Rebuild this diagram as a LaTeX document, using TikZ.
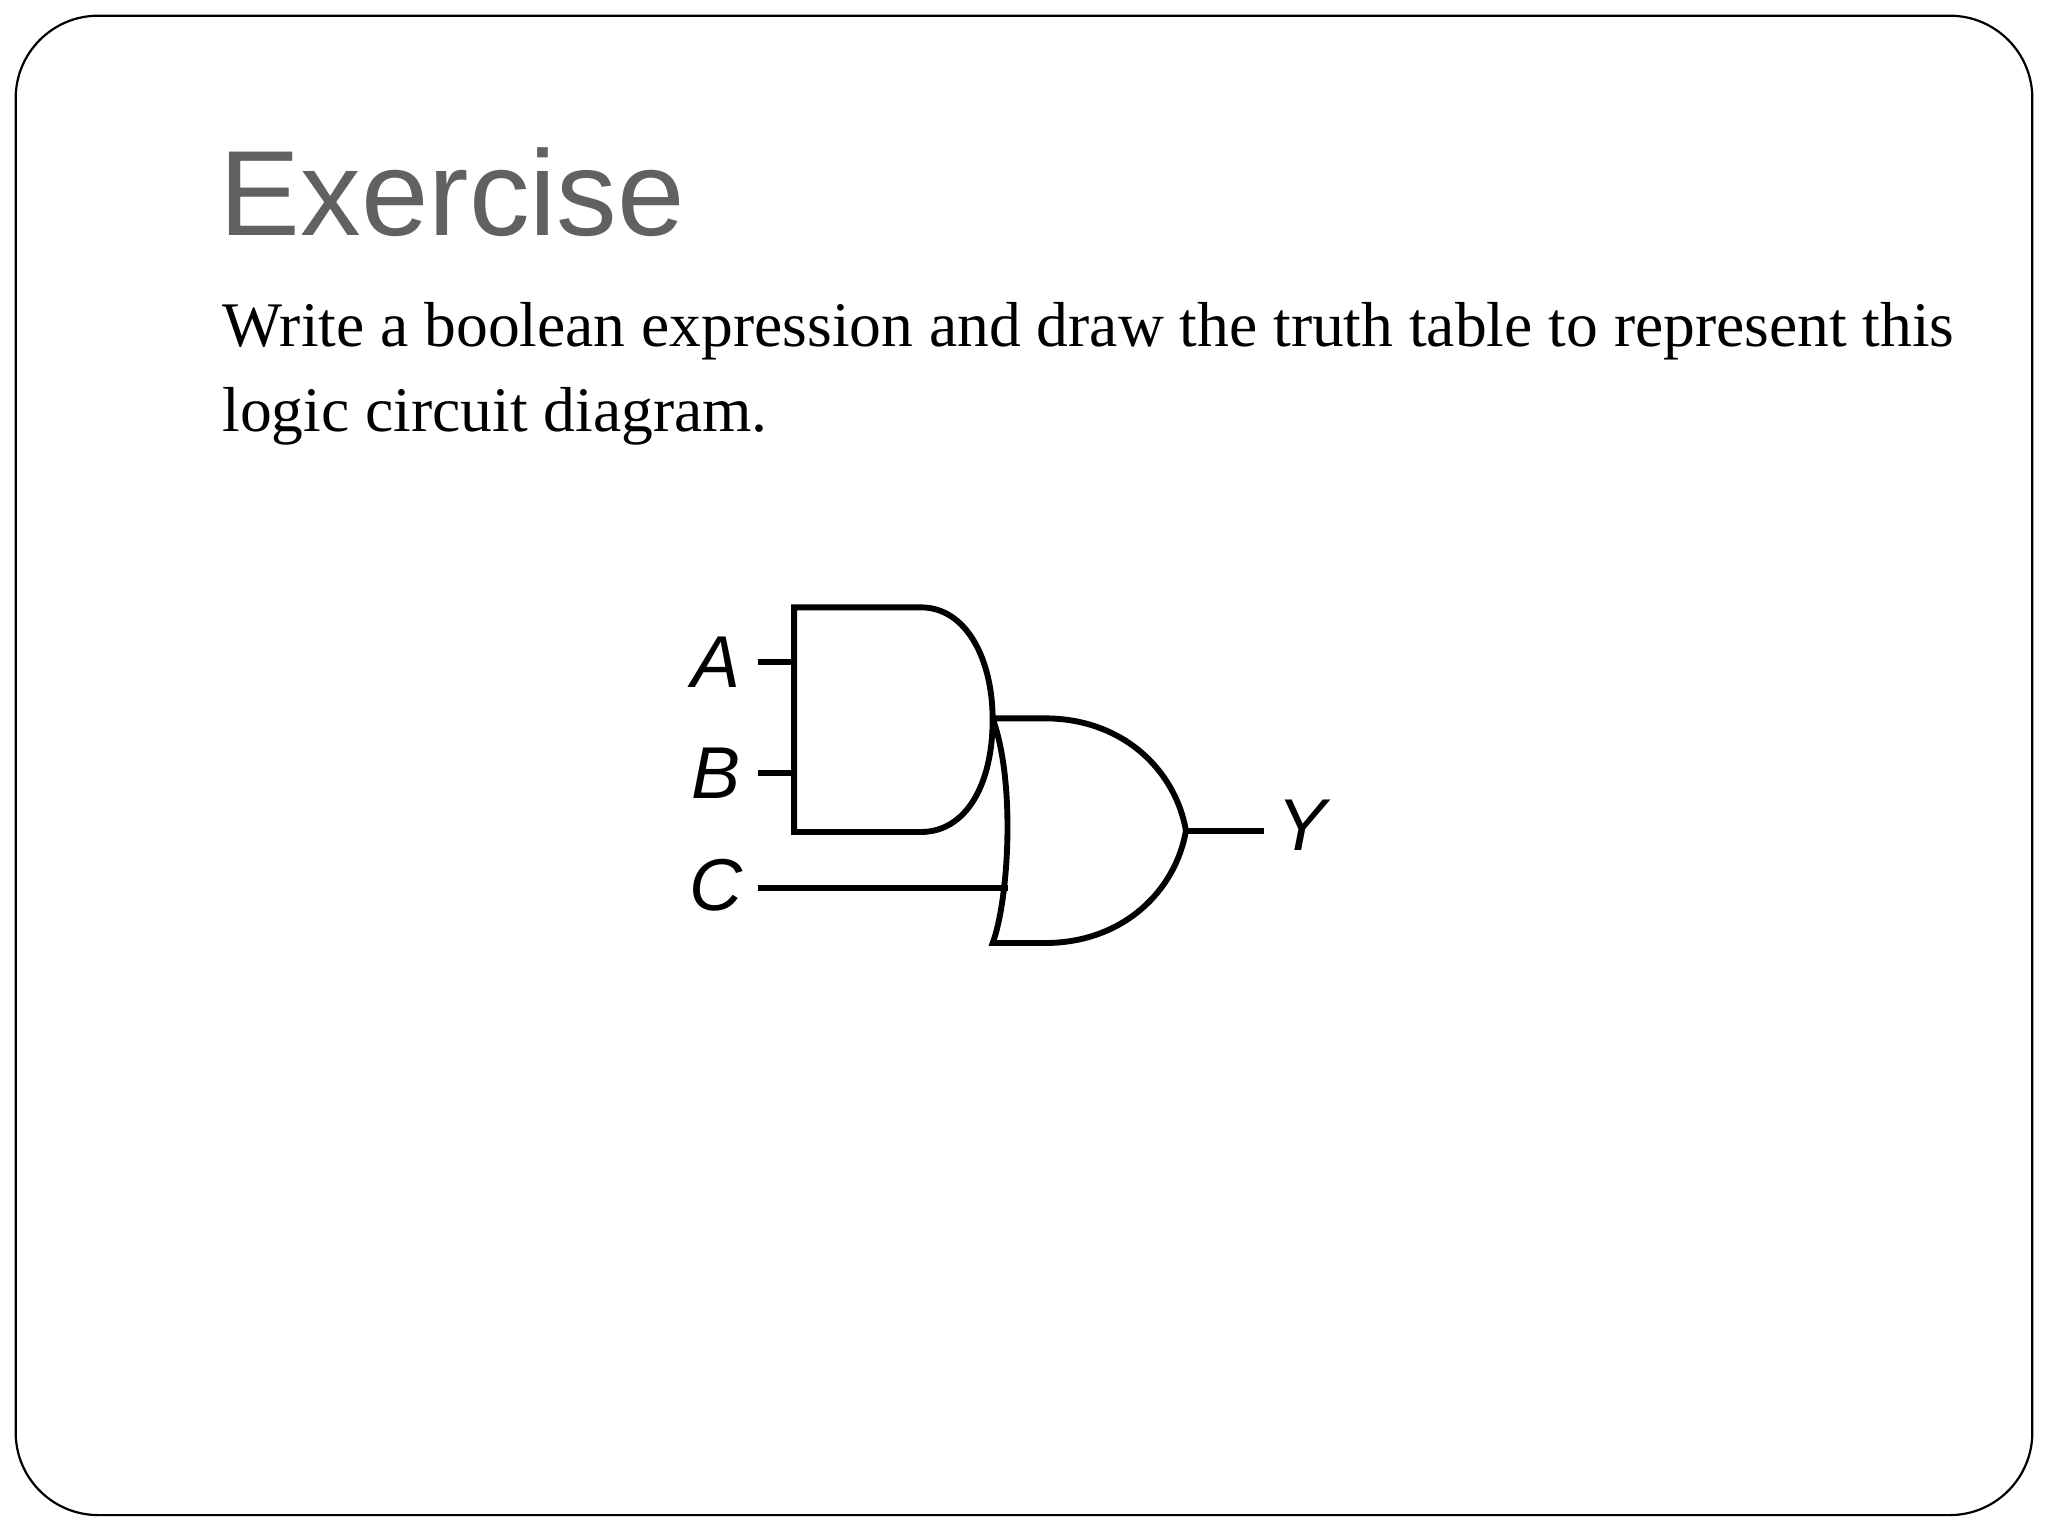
\documentclass[tikz,border=0pt]{standalone}
\usepackage{fontspec}
\setmainfont{Liberation Serif}
\newfontfamily\titlefont{Liberation Sans}
\begin{document}
\begin{tikzpicture}[x=0.025cm,y=-0.025cm,
  wire/.style={line width=3.2pt},
  lbl/.style={font=\titlefont\itshape\fontsize{40}{40}\selectfont,inner sep=0pt}]
\useasboundingbox (0,0) rectangle (1568,1176);
\fill[white] (0,0) rectangle (1568,1176);
\draw[line width=1.2pt,rounded corners=45pt] (12,12) rectangle (1556,1160);
\node[anchor=base west,inner sep=0pt,text=black!62,font=\titlefont\fontsize{66}{66}\selectfont] (title) at (168,180) {Exercise};
\node[anchor=base west,inner sep=0pt,align=left,font=\fontsize{34.6}{46}\selectfont] (body) at (170,330)
 {Write a boolean expression and draw the truth table to represent this\\logic circuit diagram.};
% AND gate
\draw[wire] (705,465) -- (608,465) -- (608,637) -- (705,637)
  .. controls (740,637) and (760,600) .. (760,551)
  .. controls (760,505) and (740,465) .. (705,465);
% OR gate
\draw[wire] (760,550) -- (800,550) .. controls (860,550) and (900,590) .. (908,636)
  .. controls (900,682) and (860,722) .. (800,722) -- (760,722)
  .. controls (772,690) and (778,600) .. (760,550);
% wires
\coordinate (a1) at (580,507); \coordinate (a2) at (608,507);
\coordinate (b1) at (580,592); \coordinate (b2) at (608,592);
\coordinate (c1) at (580,680); \coordinate (c2) at (772,680);
\coordinate (y1) at (908,636); \coordinate (y2) at (968,636);
\draw[wire] (a1) -- (a2); \draw[wire] (b1) -- (b2);
\draw[wire] (c1) -- (c2); \draw[wire] (y1) -- (y2);
\node[lbl] (A) at (548,507) {A};
\node[lbl] (B) at (548,592) {B};
\node[lbl] (C) at (548,678) {C};
\node[lbl] (Y) at (997,632) {Y};
\end{tikzpicture}
\end{document}
